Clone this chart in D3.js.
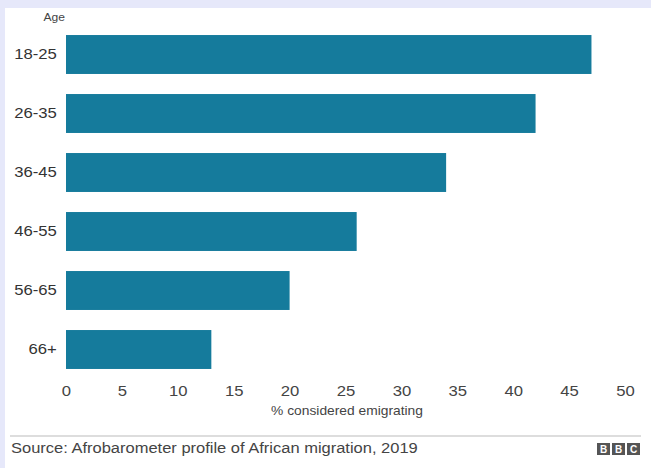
<!DOCTYPE html>
<html><head><meta charset="utf-8">
<script src="https://cdn.jsdelivr.net/npm/d3@7"></script>
<style>body{margin:0;background:#e6e8fa;}svg{display:block;}</style>
</head><body>
<svg id="c" width="651" height="468"></svg>
<script>
const categories = ["18-25","26-35","36-45","46-55","56-65","66+"];
const values = [47, 42, 34, 26, 20, 13];
const ticks = [0,5,10,15,20,25,30,35,40,45,50];

const FONT = "Liberation Sans, Arial, sans-serif";
const SX = 1.15;
const svg = d3.select("#c");
svg.append("rect").attr("x",0).attr("y",0).attr("width",651).attr("height",468).attr("fill","#e6e8fa");
svg.append("rect").attr("x",5).attr("y",8).attr("width",646).attr("height",460).attr("fill","#ffffff");

const x = d3.scaleLinear().domain([0,50]).range([66,625]);
const y = d3.scaleBand().domain(categories).range([25,379]).paddingInner(0.34).paddingOuter(0.17);

function label(tx, ty, txt, size, anchor, fill, sx) {
  return svg.append("text").attr("transform",`translate(${tx},${ty}) scale(${sx},1)`)
    .attr("text-anchor",anchor).attr("font-family",FONT).attr("font-size",size).attr("fill",fill).text(txt);
}

label(65, 21, "Age", 10.5, "end", "#444", SX);

svg.selectAll("rect.bar").data(values).enter().append("rect").attr("class","bar")
  .attr("x",x(0)).attr("y",(d,i)=>y(categories[i])).attr("width",d=>x(d)-x(0)).attr("height",y.bandwidth())
  .attr("fill","#157b9c");

const ya = d3.axisLeft(y).tickSize(0).tickPadding(8);
const gy = svg.append("g").attr("transform",`translate(${x(0)},0)`).call(ya);
gy.select(".domain").remove();
gy.selectAll("text").attr("font-family",FONT).attr("font-size",14.5).attr("fill","#333")
  .attr("transform",`scale(${SX},1)`);

const xa = d3.axisBottom(x).tickValues(ticks).tickSize(0).tickPadding(0);
const gx = svg.append("g").attr("transform","translate(0,386)").call(xa);
gx.select(".domain").remove();
gx.selectAll("text").attr("font-family",FONT).attr("font-size",14.5).attr("fill","#444")
  .attr("transform",`scale(${SX},1)`);

label(347, 415, "% considered emigrating", 12, "middle", "#444", SX);

svg.append("line").attr("x1",10).attr("x2",641).attr("y1",436).attr("y2",436).attr("stroke","#bbb").attr("stroke-width",1);

label(11, 453, "Source: Afrobarometer profile of African migration, 2019", 15, "start", "#444", 1.1);

const logo = svg.append("g").attr("transform","translate(597,443)");
["B","B","C"].forEach((l,i)=>{
  logo.append("rect").attr("x",i*15).attr("y",0).attr("width",13).attr("height",12).attr("fill","#555");
  logo.append("text").attr("x",i*15+6.5).attr("y",10).attr("text-anchor","middle")
    .attr("font-family",FONT).attr("font-weight","bold").attr("font-size",10).attr("fill","#fff").text(l);
});
</script>
</body></html>
